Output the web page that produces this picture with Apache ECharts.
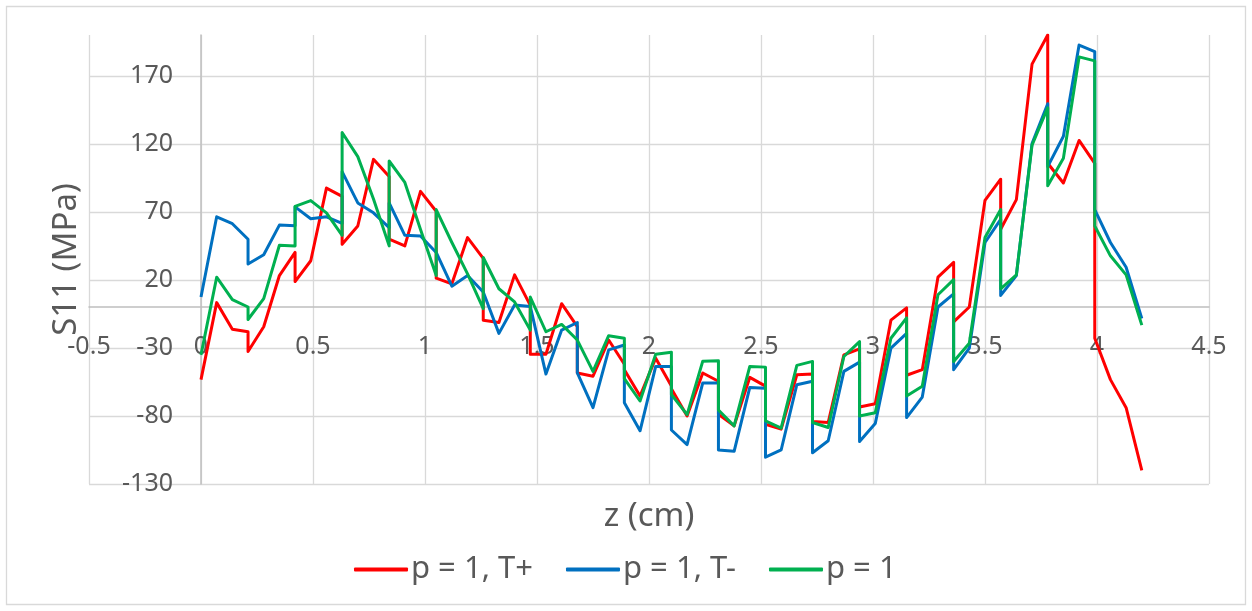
<!DOCTYPE html>
<html>
<head>
<meta charset="utf-8">
<title>S11 vs z</title>
<script src="https://cdn.jsdelivr.net/npm/echarts@6/dist/echarts.min.js"></script>
<style>
  html, body { margin: 0; padding: 0; background: #ffffff; }
  #chart { width: 1252px; height: 611px; }
</style>
</head>
<body>
<div id="chart"></div>
<script>
// Axial position z (cm); nodes repeat at element-group boundaries, giving the stepped jumps
const zValues = [
  0, 0.07, 0.14, 0.21,   0.21, 0.28, 0.35, 0.42,   0.42, 0.49, 0.56, 0.63,   0.63, 0.70, 0.77, 0.84,
  0.84, 0.91, 0.98, 1.05, 1.05, 1.12, 1.19, 1.26,   1.26, 1.33, 1.40, 1.47,   1.47, 1.54, 1.61, 1.68,
  1.68, 1.75, 1.82, 1.89, 1.89, 1.96, 2.03, 2.10,   2.10, 2.17, 2.24, 2.31,   2.31, 2.38, 2.45, 2.52,
  2.52, 2.59, 2.66, 2.73, 2.73, 2.80, 2.87, 2.94,   2.94, 3.01, 3.08, 3.15,   3.15, 3.22, 3.29, 3.36,
  3.36, 3.43, 3.50, 3.57, 3.57, 3.64, 3.71, 3.78,   3.78, 3.85, 3.92, 3.99,   3.99, 4.06, 4.13, 4.20
];

// S11 (MPa), p = 1, T+
const s11TPlus = [
  -53.3, 3.3, -16.2, -18.1,   -32.6, -14.4, 23.2, 40.2,   18.8, 34.1, 87.5, 81.4,   46.2, 59.6, 108.6, 96,
  49.9, 45, 85.1, 70.5,       21.3, 17.1, 51.1, 35.8,     -9.6, -11.3, 23.7, 1.3,   -34.6, -34.6, 2.5, -14.4,
  -48.4, -50.8, -24.2, -42,   -46, -65.4, -37.5, -58,     -60, -80, -48.4, -54.5,   -78.8, -87.3, -51.6, -58.1,
  -86.1, -89.7, -49.7, -49.2, -84, -84.8, -35.1, -30.7,   -73.4, -71, -9.6, -0.6,   -50.1, -46, 22, 32.9,
  -10.8, 0.1, 78.5, 94,       57.2, 79, 178.6, 200,       105.7, 91.2, 122.5, 105.7, -22.9, -53.3, -73.9, -120
];

// S11 (MPa), p = 1, T-
const s11TMinus = [
  7.4, 66.4, 61.3, 49.9,      31.7, 38.5, 60.3, 59.8,     73.7, 65, 66.4, 61.5,     99.6, 76.6, 69.3, 58.4,
  76.6, 52.8, 52.3, 40.2,     39, 15.4, 23.2, 11.1,       11.1, -19.3, 1.5, 0.5,    0.1, -49.2, -16.9, -11.3,
  -48.4, -73.9, -31.4, -27.8, -70.3, -90.9, -43.6, -43.6, -90.3, -101, -55.7, -55.7, -105, -106, -59, -59.6,
  -110.3, -105, -57, -54.5,   -107, -98.2, -47.2, -40.4,  -98.7, -85.6, -30.2, -19.3, -81.2, -66.1, 0.1, 9.8,
  -46, -30.2, 47.5, 64.5,     8.6, 23.2, 120.3, 149.5,    103.3, 125.6, 192.6, 187.8, 71.7, 47.5, 29.3, -8.4
];

// S11 (MPa), p = 1
const s11P1 = [
  -35.1, 22, 5.5, 0.1,        -9.1, 6.2, 45.5, 45,        74.1, 78.3, 69.3, 52.8,   128.3, 110.6, 79.5, 45,
  107.4, 91.6, 57, 23.2,      71.7, 47.5, 24.4, -1.1,     36.5, 13.5, 3.8, -16.9,   7.4, -18.1, -12.7, -24.2,
  -24.2, -47.2, -21, -22.9,   -52.5, -69, -34.6, -33.2,   -64.2, -79, -39.7, -39.5, -75.6, -87.3, -43.6, -44.1,
  -83.6, -89, -42.8, -39.9,   -84.8, -88.5, -36.3, -25.3, -80, -77.6, -22.9, -7.9,  -65.4, -58.1, 9.1, 20.2,
  -39.9, -26.6, 51.1, 71.7,   13.5, 23.7, 119.1, 146.5,   89.2, 109.4, 183.9, 181,  59.6, 37.7, 23.7, -13.2
];

const seriesNames = ['p = 1, T+', 'p = 1, T-', 'p = 1'];
const seriesColors = ['#FF0000', '#0070C0', '#00B050'];
const xTicks = [-0.5, 4.5, 0.5];          // min, max, step
const yTicks = [-130, 200, 50];           // min, max, step

const FONT = '"Noto Sans", "Open Sans", sans-serif';
const TEXT = '#595959';
const GRID = '#d9d9d9';
const AXIS = '#bfbfbf';

const GRID_BOX = { left: 89, right: 43, top: 35, bottom: 127 };
const W = 1252, H = 611;

function pairs(ys) {
  return zValues.map((z, i) => [z, ys[i]]);
}

const chart = echarts.init(document.getElementById('chart'), null, { renderer: 'canvas' });

chart.setOption({
  backgroundColor: '#ffffff',
  animation: false,
  textStyle: { fontFamily: FONT, color: TEXT },
  graphic: [{
    type: 'rect',
    shape: { x: 6.5, y: 6.5, width: 1239, height: 598 },
    style: { fill: 'none', stroke: GRID, lineWidth: 1.3 },
    silent: true,
    z: -10
  }],
  grid: Object.assign({ containLabel: false, outerBoundsMode: 'none' }, GRID_BOX),
  xAxis: {
    type: 'value',
    min: xTicks[0], max: xTicks[1], interval: xTicks[2],
    name: 'z (cm)',
    nameLocation: 'middle',
    nameGap: 193,
    nameTextStyle: { fontFamily: FONT, fontSize: 33, color: TEXT },
    axisLine: { show: true, onZero: false, lineStyle: { color: AXIS, width: 1.5 } },
    axisTick: { show: false },
    axisLabel: { fontFamily: FONT, fontSize: 25, color: TEXT, margin: 27 },
    splitLine: { show: true, lineStyle: { color: GRID, width: 1.3 } }
  },
  yAxis: {
    type: 'value',
    min: yTicks[0], max: yTicks[1], interval: yTicks[2],
    name: 'S11 (MPa)',
    nameLocation: 'middle',
    nameGap: 118,
    nameTextStyle: { fontFamily: FONT, fontSize: 33, color: TEXT },
    axisLine: { show: true, onZero: false, lineStyle: { color: AXIS, width: 1.5 } },
    axisTick: { show: false },
    axisLabel: { fontFamily: FONT, fontSize: 25, color: TEXT, margin: 28, showMaxLabel: false },
    splitLine: { show: true, showMaxLine: false, lineStyle: { color: GRID, width: 1.3 } }
  },
  legend: {
    left: 349,
    top: 549,
    icon: 'roundRect',
    itemWidth: 54,
    itemHeight: 4,
    itemGap: 33,
    textStyle: { fontFamily: FONT, fontSize: 31, color: TEXT, padding: [0, 0, 0, -2] },
    data: seriesNames
  },
  series: [s11TPlus, s11TMinus, s11P1].map((ys, i) => ({
    name: seriesNames[i],
    type: 'line',
    data: pairs(ys),
    showSymbol: false,
    symbol: 'none',
    smooth: false,
    clip: true,
    color: seriesColors[i],
    itemStyle: { color: seriesColors[i] },
    lineStyle: { color: seriesColors[i], width: 3, join: 'round' },
    z: 2 + i
  }))
});

// Both axes cross at the origin: shift each axis (line and labels) onto the other's zero.
const x0 = chart.convertToPixel({ xAxisIndex: 0 }, 0);
const y0 = chart.convertToPixel({ yAxisIndex: 0 }, 0);
chart.setOption({
  xAxis: { offset: -((H - GRID_BOX.bottom) - y0) },
  yAxis: { offset: -(x0 - GRID_BOX.left) }
});
</script>
</body>
</html>
